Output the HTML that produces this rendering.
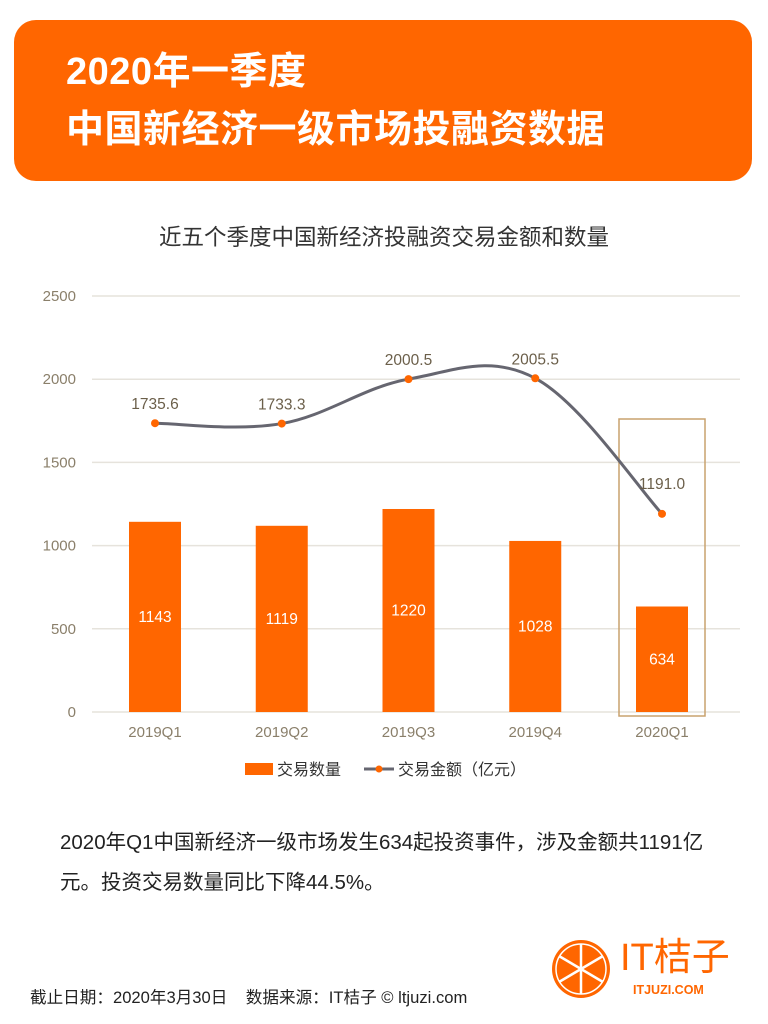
<!DOCTYPE html>
<html><head><meta charset="utf-8"><style>
body{margin:0;width:768px;height:1024px;background:#fff;font-family:"Liberation Sans","Noto Sans CJK SC",sans-serif;position:relative;overflow:hidden}
.hdr{position:absolute;left:14px;top:20px;width:738px;height:161px;background:#FF6600;border-radius:22px}
.hdr div{position:absolute;left:52px;color:#fff;font-weight:bold;font-size:38px;line-height:44px;letter-spacing:0.5px}
.t{position:absolute}
</style></head><body>
<div class="hdr">
<div style="top:30px">2020年一季度</div>
<div style="top:88px">中国新经济一级市场投融资数据</div>
</div>
<div class="t" style="left:0;width:768px;text-align:center;top:220px;font-size:22.5px;color:#333">近五个季度中国新经济投融资交易金额和数量</div>
<svg id="chart" width="768" height="800" style="position:absolute;left:0;top:0"></svg>
<div class="t" style="left:60px;top:823px;font-size:20.5px;color:#222;line-height:40px;width:700px">2020年Q1中国新经济一级市场发生634起投资事件，涉及金额共1191亿<br>元。投资交易数量同比下降44.5%。</div>
<div class="t" style="left:30px;top:984px;font-size:16.6px;color:#222">截止日期：2020年3月30日&nbsp;&nbsp;&nbsp;&nbsp;数据来源：IT桔子 © ltjuzi.com</div>
<svg class="t" style="left:550px;top:938px" width="62" height="62">
<circle cx="31" cy="31" r="29" fill="#FF6600"/><circle cx="31" cy="31" r="25" fill="none" stroke="#fff" stroke-width="1.5"/>
<g stroke="#fff" stroke-width="2.5"><line x1="31" y1="6" x2="31" y2="56"/><line x1="9" y1="18" x2="53" y2="44"/><line x1="9" y1="44" x2="53" y2="18"/></g></svg>
<div class="t" style="left:620px;top:938px;font-size:38px;color:#FF6600;line-height:40px">IT桔子</div>
<div class="t" style="left:633px;top:983px;font-size:12.5px;color:#FF6600;font-weight:bold">ITJUZI.COM</div>
<script>
const categories=["2019Q1","2019Q2","2019Q3","2019Q4","2020Q1"];
const counts=[1143,1119,1220,1028,634];
const amounts=[1735.6,1733.3,2000.5,2005.5,1191.0];
const amountLabels=["1735.6","1733.3","2000.5","2005.5","1191.0"];
const yTicks=[0,500,1000,1500,2000,2500];
const svg=document.getElementById('chart');const NS='http://www.w3.org/2000/svg';
const y=v=>712-v*416/2500;const x=i=>155+i*126.75;
function mk(t,a,p){const e=document.createElementNS(NS,t);for(const k in a)e.setAttribute(k,a[k]);(p||svg).appendChild(e);return e;}
yTicks.forEach(v=>{
const l=mk('line',{x1:92,x2:740,y1:y(v),y2:y(v),stroke:'#e6e3dc','stroke-width':1.5});


const t=mk('text',{x:76,y:y(v)+5,'text-anchor':'end','font-size':15,fill:'#8a7f6a'});t.textContent=v;


});
categories.forEach((c,i)=>{
const b=mk('rect',{x:x(i)-26,y:y(counts[i]),width:52,height:712-y(counts[i]),fill:'#FF6600'});


const bt=mk('text',{x:x(i),y:(y(counts[i])+712)/2+5,'text-anchor':'middle','font-size':15.5,fill:'#fff'});bt.textContent=counts[i];


const xt=mk('text',{x:x(i),y:737,'text-anchor':'middle','font-size':15,fill:'#8a7f6a'});xt.textContent=c;


});
const hb=mk('rect',{x:x(4)-43,y:419,width:86,height:297,fill:'none',stroke:'#c9a26e','stroke-width':1.5});


const pts=amounts.map((v,i)=>[x(i),y(v)]);
let d='M'+pts[0][0]+','+pts[0][1];
for(let i=0;i<pts.length-1;i++){const p0=pts[Math.max(0,i-1)],p1=pts[i],p2=pts[i+1],p3=pts[Math.min(pts.length-1,i+2)];
const k=0.18;d+=` C${p1[0]+(p2[0]-p0[0])*k},${p1[1]+(p2[1]-p0[1])*k} ${p2[0]-(p3[0]-p1[0])*k},${p2[1]-(p3[1]-p1[1])*k} ${p2[0]},${p2[1]}`;}
const ln=mk('path',{d:d,fill:'none',stroke:'#666670','stroke-width':3});


pts.forEach((p,i)=>{
const c=mk('circle',{cx:p[0],cy:p[1],r:4,fill:'#FF6600'});


const last=i===pts.length-1;
const t=mk('text',{x:p[0],y:last?p[1]-25:p[1]-14,'text-anchor':'middle','font-size':15.5,fill:'#6b5f4a'});t.textContent=amountLabels[i];


});
const lr=mk('rect',{x:245,y:763,width:28,height:12,fill:'#FF6600'});


const lt1=mk('text',{x:277,y:775,'font-size':16,fill:'#333'});lt1.textContent='交易数量';


const ll=mk('line',{x1:364,x2:394,y1:769,y2:769,stroke:'#666670','stroke-width':3});


mk('circle',{cx:379,cy:769,r:3.5,fill:'#FF6600'});
const lt2=mk('text',{x:398,y:775,'font-size':16,fill:'#333'});lt2.textContent='交易金额（亿元）';


</script>
</body></html>
